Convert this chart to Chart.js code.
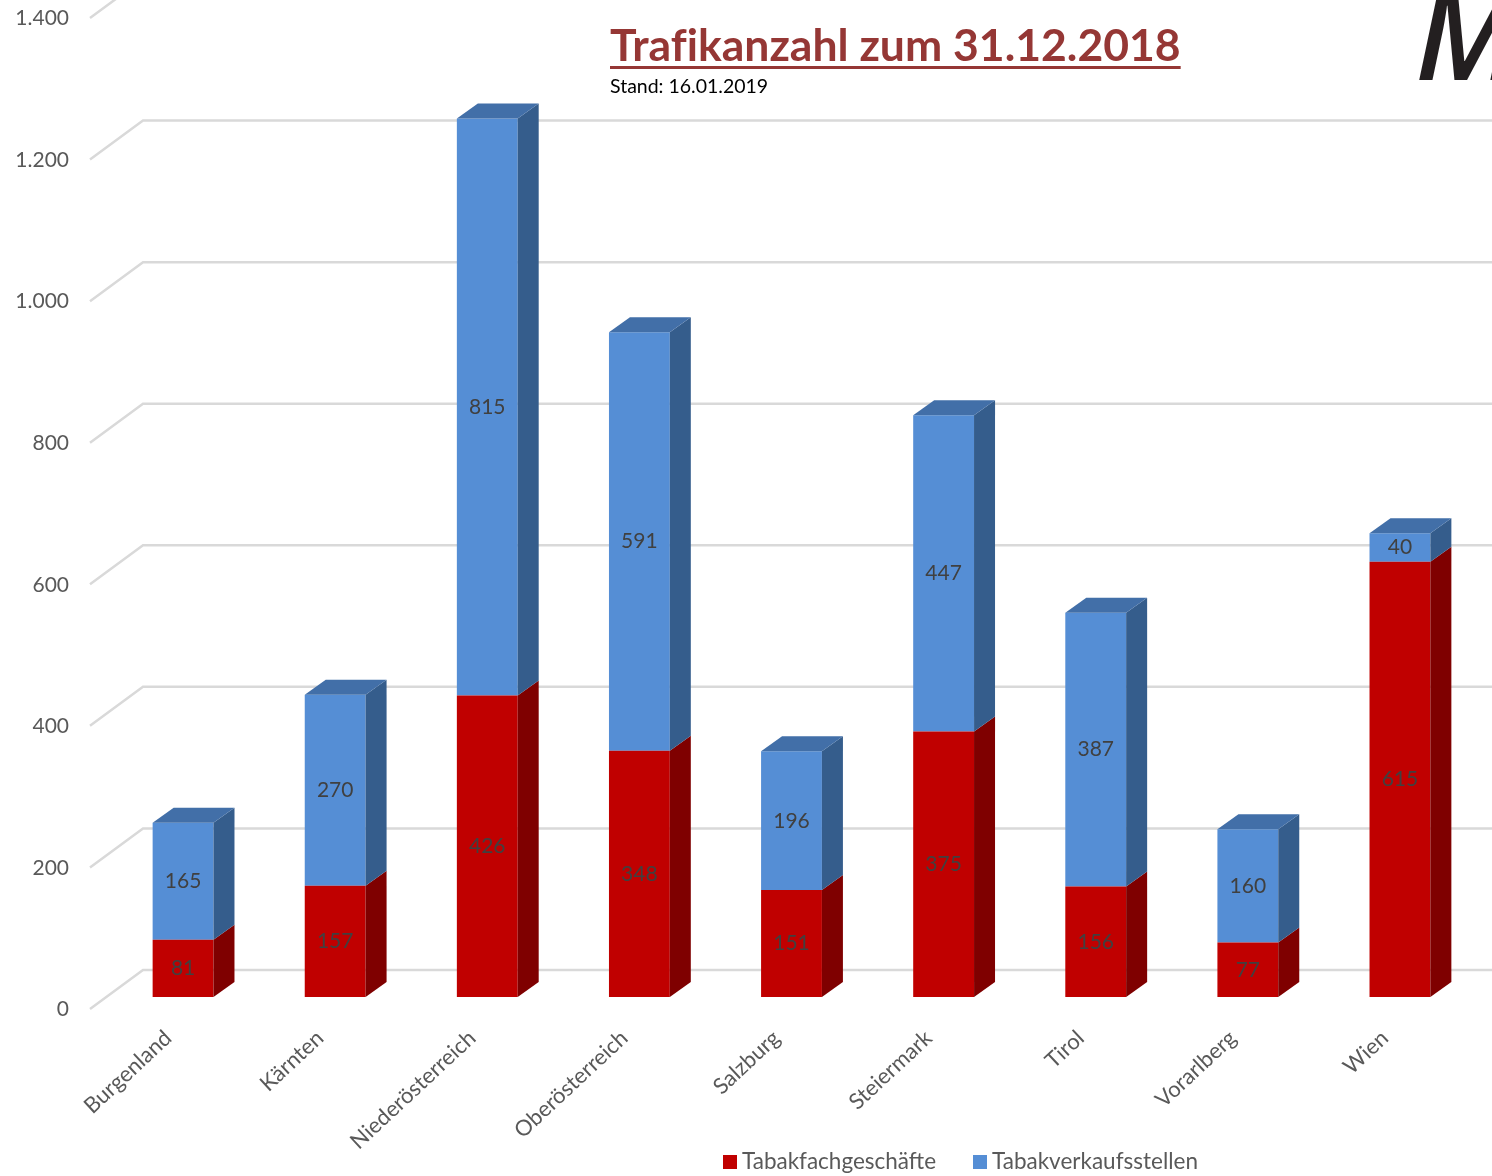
<!DOCTYPE html>
<html lang="de">
<head>
<meta charset="utf-8">
<title>Trafikanzahl zum 31.12.2018</title>
<script src="https://cdn.jsdelivr.net/npm/chart.js@4/dist/chart.umd.min.js"></script>
<style>
    html, body { margin: 0; padding: 0; background: #fff; }
    #wrap { position: relative; width: 1492px; height: 1176px; overflow: hidden; }
    #barChart { position: absolute; left: 0; top: 0; }
    #title {
        position: absolute; left: 610px; top: 17px; white-space: nowrap;
        font: bold 44.5px Lato, sans-serif; color: #953735; font-variant-ligatures: none;
        text-decoration: underline; text-decoration-thickness: 3px; text-underline-offset: 5px;
    }
    #stand { position: absolute; left: 610px; top: 74px; font: 19.5px Lato, sans-serif; color: #000; white-space: nowrap; }
    #logo {
        position: absolute; left: 1415px; top: -54px;
        font: italic 600 125px "Open Sans", sans-serif; color: #231f20;
    }
    #legend { position: absolute; top: 1147px; left: 0; font: 22.5px Lato, sans-serif; color: #595959; white-space: nowrap; }
    #legend span { position: absolute; top: 0; }
    #legend i { position: absolute; top: 8px; width: 14px; height: 14px; }
</style>
</head>
<body>
<div id="wrap">
    <canvas id="barChart" width="1492" height="1176"></canvas>
    <div id="title">Trafikanzahl zum 31.12.2018</div>
    <div id="stand">Stand: 16.01.2019</div>
    <div id="logo">M</div>
    <div id="legend"></div>
</div>
<script>
    const bundeslaender = ["Burgenland", "Kärnten", "Niederösterreich", "Oberösterreich", "Salzburg", "Steiermark", "Tirol", "Vorarlberg", "Wien"];
    const tabakfachgeschaefte = [81, 157, 426, 348, 151, 375, 156, 77, 615];
    const tabakverkaufsstellen = [165, 270, 815, 591, 196, 447, 387, 160, 40];
    const tickValues = [0, 200, 400, 600, 800, 1000, 1200, 1400];

    const COLORS = {
        red: "#c00000",
        redSide: "#7f0000",
        blue: "#558ed5",
        blueSide: "#355d8c",
        blueTop: "#426fa8",
        grid: "#d9d9d9",
        axisText: "#595959",
        valueText: "#404040",
    };

    const BAR_DEPTH = { x: 21, y: 15 }; // depth of the 3D columns
    const WALL = { left: 90, x: 53, back: 27, front: 12 }; // back wall offsets from the bar plane

    function face(ctx, points, color) {
        ctx.fillStyle = color;
        ctx.beginPath();
        points.forEach(([x, y], i) => (i ? ctx.lineTo(x, y) : ctx.moveTo(x, y)));
        ctx.closePath();
        ctx.fill();
    }

    // Gridlines on the back wall with the diagonal side wall part
    const wallGrid = {
        id: "wallGrid",
        beforeDatasetsDraw(chart) {
            const { ctx, scales: { y } } = chart;
            ctx.save();
            ctx.strokeStyle = COLORS.grid;
            ctx.lineWidth = 2.5;
            tickValues.forEach((value) => {
                const py = y.getPixelForValue(value);
                ctx.beginPath();
                ctx.moveTo(WALL.left, py + WALL.front);
                ctx.lineTo(WALL.left + WALL.x, py - WALL.back);
                ctx.lineTo(chart.width, py - WALL.back);
                ctx.stroke();
            });
            ctx.restore();
        },
    };

    // Side and top faces of the columns, taken from the bar elements
    const columns3d = {
        id: "columns3d",
        afterDatasetsDraw(chart) {
            const { ctx } = chart;
            const dx = BAR_DEPTH.x;
            const dy = BAR_DEPTH.y;
            ctx.save();
            chart.data.datasets.forEach((dataset, d) => {
                const sideColor = d === 0 ? COLORS.redSide : COLORS.blueSide;
                chart.getDatasetMeta(d).data.forEach((bar) => {
                    const right = bar.x + bar.width / 2;
                    const left = bar.x - bar.width / 2;
                    face(ctx, [[right, bar.base], [right + dx, bar.base - dy], [right + dx, bar.y - dy], [right, bar.y]], sideColor);
                    if (d === 1) {
                        face(ctx, [[left, bar.y], [left + dx, bar.y - dy], [right + dx, bar.y - dy], [right, bar.y]], COLORS.blueTop);
                    }
                });
            });
            ctx.restore();
        },
    };

    // Values in the middle of every segment
    const valueLabels = {
        id: "valueLabels",
        afterDraw(chart) {
            const { ctx } = chart;
            ctx.save();
            ctx.font = "21px Lato";
            ctx.fillStyle = COLORS.valueText;
            ctx.textAlign = "center";
            ctx.textBaseline = "middle";
            chart.data.datasets.forEach((dataset, d) => {
                chart.getDatasetMeta(d).data.forEach((bar, i) => {
                    ctx.fillText(dataset.data[i], bar.x, (bar.y + bar.base) / 2);
                });
            });
            ctx.restore();
        },
    };

    const CHART = document.getElementById("barChart");
    const chart = new Chart(CHART, {
        type: "bar",
        data: {
            labels: bundeslaender,
            datasets: [
                { label: "Tabakfachgeschäfte", data: tabakfachgeschaefte, backgroundColor: COLORS.red },
                { label: "Tabakverkaufsstellen", data: tabakverkaufsstellen, backgroundColor: COLORS.blue },
            ],
        },
        options: {
            responsive: false,
            animation: false,
            layout: { autoPadding: false, padding: { top: 6, right: 16 } },
            categoryPercentage: 1,
            barPercentage: 0.4,
            plugins: {
                tooltip: { enabled: false },
                legend: { display: false },
            },
            scales: {
                x: {
                    stacked: true,
                    grid: { display: false },
                    border: { display: false },
                    ticks: {
                        autoSkip: false,
                        minRotation: 43,
                        maxRotation: 43,
                        padding: 20,
                        labelOffset: -15,
                        color: COLORS.axisText,
                        font: { family: "Lato", size: 22 },
                    },
                    afterFit(scale) {
                        scale.height = 179;
                    },
                },
                y: {
                    stacked: true,
                    min: 0,
                    max: 1400,
                    grid: { display: false, drawTicks: false },
                    border: { display: false },
                    afterBuildTicks(scale) {
                        scale.ticks = tickValues.map((value) => ({ value }));
                    },
                    ticks: {
                        padding: 38,
                        labelOffset: 12.5,
                        color: COLORS.axisText,
                        font: { family: "Lato", size: 21 },
                        callback: (value) => String(value).replace(/\B(?=(\d{3})+$)/g, "."),
                    },
                    afterFit(scale) {
                        scale.width = 107;
                        scale.paddingTop = 0; // otherwise the scale keeps a gap above 1.400
                        scale.paddingBottom = 0;
                    },
                },
            },
        },
        plugins: [wallGrid, columns3d, valueLabels],
    });

    // Legend sits off-centre in the reference, so it is built by hand
    const legendX = [723, 973];
    const legendBox = document.getElementById("legend");
    chart.data.datasets.forEach((dataset, i) => {
        const box = document.createElement("i");
        box.style.left = legendX[i] + "px";
        box.style.background = dataset.backgroundColor;
        const text = document.createElement("span");
        text.style.left = legendX[i] + 19 + "px";
        text.textContent = dataset.label;
        legendBox.append(box, text);
    });
</script>
</body>
</html>
